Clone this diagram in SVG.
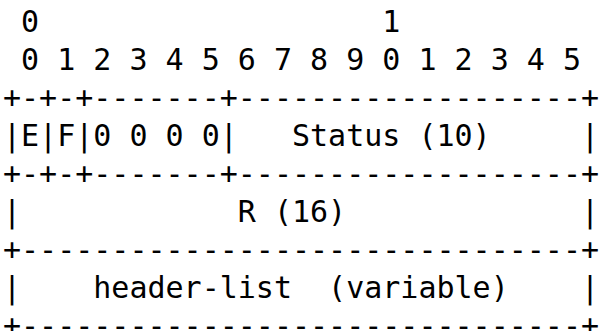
<svg xmlns="http://www.w3.org/2000/svg" width="599" height="331" viewBox="0 0 599 331">
<style>
text { font-family: "DejaVu Sans Mono", "Liberation Mono", monospace; font-size: 30px; fill: #000; white-space: pre; }
</style>
<rect width="599" height="331" fill="#fff"/>
<g id="ascii">
<text x="3" y="31.5" xml:space="preserve"> 0                   1</text>
<text x="3" y="69.5" xml:space="preserve"> 0 1 2 3 4 5 6 7 8 9 0 1 2 3 4 5</text>
<text x="3" y="107.5" xml:space="preserve">+-+-+-------+-------------------+</text>
<text x="3" y="145.5" xml:space="preserve">|E|F|0 0 0 0|   Status (10)     |</text>
<text x="3" y="183.5" xml:space="preserve">+-+-+-------+-------------------+</text>
<text x="3" y="221.5" xml:space="preserve">|            R (16)             |</text>
<text x="3" y="259.5" xml:space="preserve">+-------------------------------+</text>
<text x="3" y="297.5" xml:space="preserve">|    header-list  (variable)    |</text>
<text x="3" y="335.5" xml:space="preserve">+-------------------------------+</text>
</g>
</svg>
